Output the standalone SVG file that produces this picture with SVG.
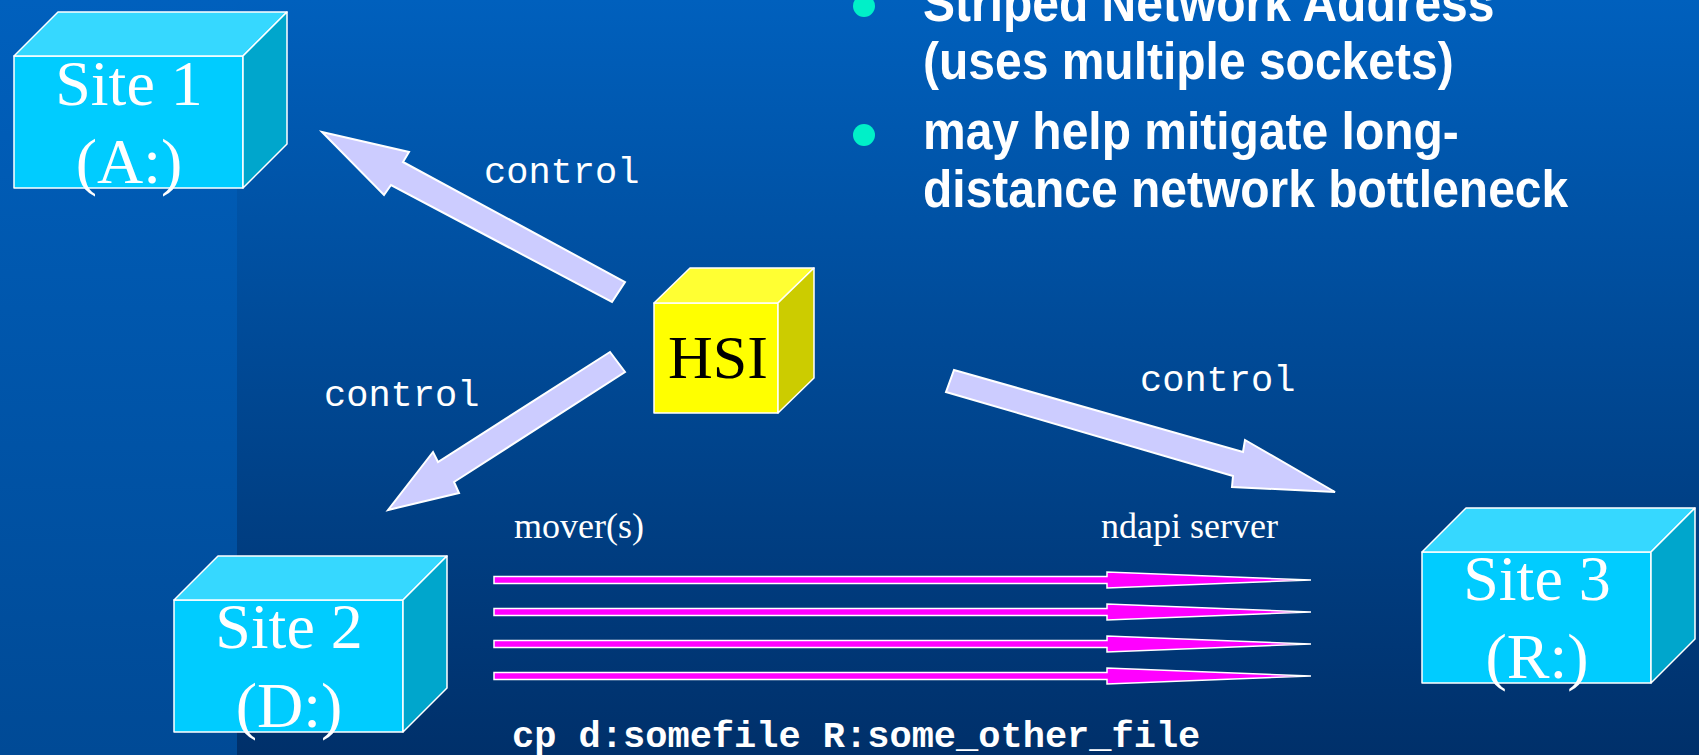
<svg xmlns="http://www.w3.org/2000/svg" width="1699" height="755" viewBox="0 0 1699 755">
<defs>
<linearGradient id="bgMain" x1="0" y1="0" x2="0" y2="1">
<stop offset="0" stop-color="#0060bd"/>
<stop offset="1" stop-color="#00306a"/>
</linearGradient>
<linearGradient id="bgLeft" x1="0" y1="0" x2="0" y2="1">
<stop offset="0" stop-color="#0060bd"/>
<stop offset="1" stop-color="#004a96"/>
</linearGradient>
<style>
.cf{fill:#00ccff;stroke:#ffffff;stroke-width:1.5;stroke-linejoin:round}
.ct{fill:#36d8ff;stroke:#ffffff;stroke-width:1.5;stroke-linejoin:round}
.cs{fill:#00a6cc;stroke:#ffffff;stroke-width:1.5;stroke-linejoin:round}
.yf{fill:#ffff00;stroke:#ffffff;stroke-width:1.5;stroke-linejoin:round}
.yt{fill:#ffff33;stroke:#ffffff;stroke-width:1.5;stroke-linejoin:round}
.ys{fill:#cccc00;stroke:#ffffff;stroke-width:1.5;stroke-linejoin:round}
.site{font-family:"Liberation Serif","Times New Roman",serif;font-size:64px;fill:#ffffff;text-anchor:middle}
.hsi{font-family:"Liberation Serif","Times New Roman",serif;font-size:62px;fill:#000000;text-anchor:middle}
.ctl{font-family:"Liberation Mono","Courier New",monospace;font-size:37px;fill:#ffffff}
.lbl{font-family:"Liberation Serif","Times New Roman",serif;font-size:36px;fill:#ffffff}
.cmd{font-family:"Liberation Mono","Courier New",monospace;font-size:37px;font-weight:bold;fill:#ffffff}
.bul{font-family:"Liberation Sans",Arial,sans-serif;font-size:48px;font-weight:bold;fill:#ffffff}
.big{fill:#ccccff;stroke:#ffffff;stroke-width:2;stroke-linejoin:miter}
.mv{fill:#ff00ff;stroke:#ffffff;stroke-width:1.5;stroke-linejoin:miter}
</style>
</defs>
<rect x="0" y="0" width="1699" height="755" fill="url(#bgMain)"/>
<rect x="0" y="0" width="237" height="755" fill="url(#bgLeft)"/>

<g id="bullets">
<circle cx="864" cy="6" r="11" fill="#00f0c8"/>
<text class="bul" transform="translate(923,21) scale(1,1.07)">Striped Network Address</text>
<text class="bul" transform="translate(923,79) scale(1,1.07)">(uses multiple sockets)</text>
<circle cx="864" cy="135" r="11" fill="#00f0c8"/>
<text class="bul" transform="translate(923,149) scale(1,1.07)">may help mitigate long-</text>
<text class="bul" transform="translate(923,207) scale(1,1.07)">distance network bottleneck</text>
</g>

<g id="connectors">
<polygon class="big" points="322,132 409,152 403,162 625,282 612,302 391,185 384,195"/>
<polygon class="big" points="388,510 433,452 438,462 610,352 625,372 454,482 459,493"/>
<polygon class="big" points="954,370 1243,452 1245,440 1335,492 1232,487 1233,476 946,392"/>
<text class="ctl" x="484" y="183">control</text>
<text class="ctl" x="324" y="406">control</text>
<text class="ctl" x="1140" y="391">control</text>
<g id="movers">
<polygon class="mv" points="494,576.5 1107,576.5 1107,572 1311,580 1107,588 1107,583.5 494,583.5"/>
<polygon class="mv" points="494,608.5 1107,608.5 1107,604 1311,612 1107,620 1107,615.5 494,615.5"/>
<polygon class="mv" points="494,640.5 1107,640.5 1107,636 1311,644 1107,652 1107,647.5 494,647.5"/>
<polygon class="mv" points="494,672.5 1107,672.5 1107,668 1311,676 1107,684 1107,679.5 494,679.5"/>
</g>
<text class="lbl" x="514" y="538">mover(s)</text>
<text class="lbl" x="1101" y="538">ndapi server</text>
<text class="cmd" x="512" y="747">cp d:somefile R:some_other_file</text>
</g>

<g id="site1">
<rect class="cf" x="14" y="56" width="229" height="132"/>
<polygon class="ct" points="14,56 58,12 287,12 243,56"/>
<polygon class="cs" points="243,56 287,12 287,144 243,188"/>
<text class="site" x="129" y="105">Site 1</text>
<text class="site" x="129" y="183">(A:)</text>
</g>

<g id="site2">
<rect class="cf" x="174" y="600" width="229" height="132"/>
<polygon class="ct" points="174,600 218,556 447,556 403,600"/>
<polygon class="cs" points="403,600 447,556 447,688 403,732"/>
<text class="site" x="289" y="648">Site 2</text>
<text class="site" x="289" y="727">(D:)</text>
</g>

<g id="site3">
<rect class="cf" x="1422" y="552" width="229" height="131"/>
<polygon class="ct" points="1422,552 1466,508 1695,508 1651,552"/>
<polygon class="cs" points="1651,552 1695,508 1695,639 1651,683"/>
<text class="site" x="1537" y="600">Site 3</text>
<text class="site" x="1537" y="678">(R:)</text>
</g>

<g id="hsi">
<rect class="yf" x="654" y="303" width="124" height="110"/>
<polygon class="yt" points="654,303 690,268 814,268 778,303"/>
<polygon class="ys" points="778,303 814,268 814,378 778,413"/>
<text class="hsi" x="718" y="378">HSI</text>
</g>
</svg>
